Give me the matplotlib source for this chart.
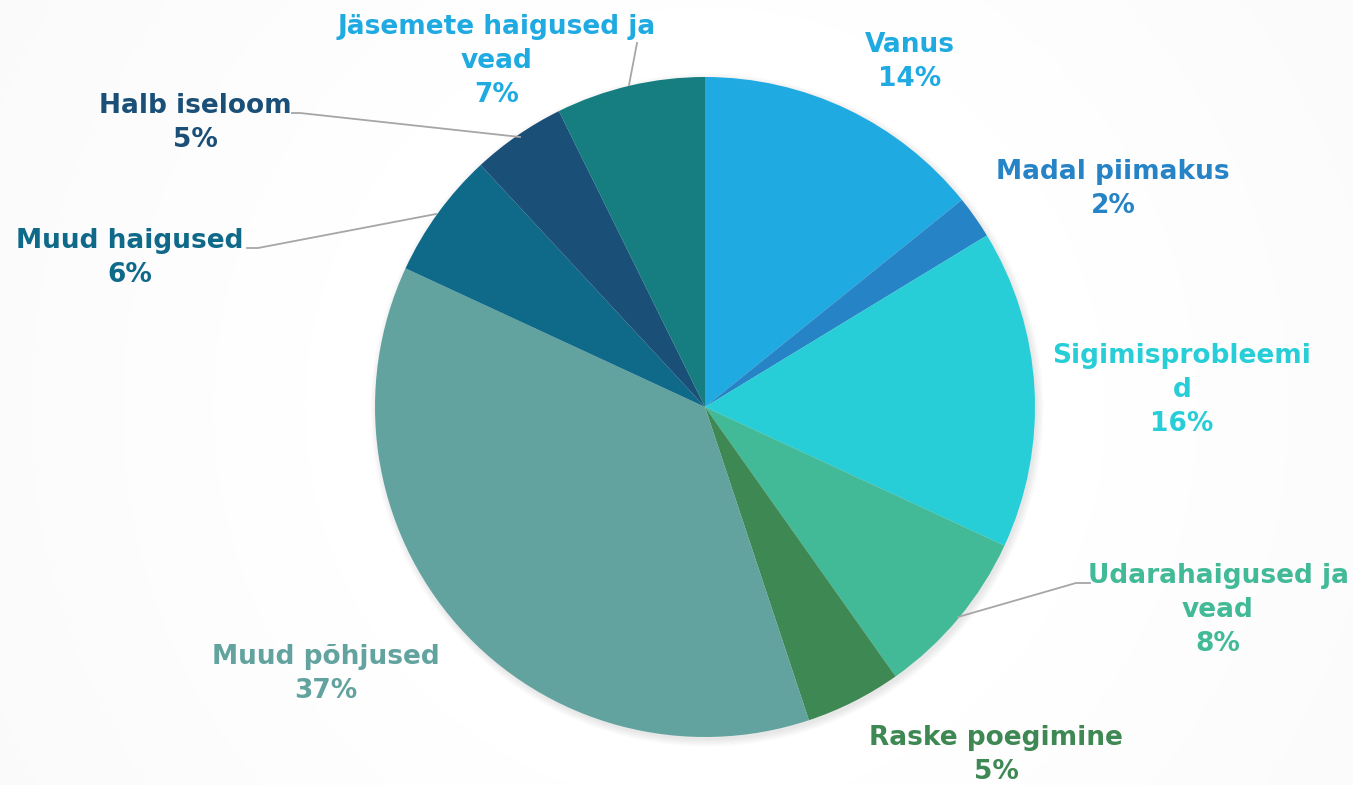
import matplotlib.pyplot as plt
import numpy as np

# data (shares, labels show rounded %)
labels = ["Vanus", "Madal piimakus", "Sigimisprobleemi\nd", "Udarahaigused ja\nvead",
          "Raske poegimine", "Muud põhjused", "Muud haigused", "Halb iseloom",
          "Jäsemete haigused ja\nvead"]
shares = [14.2, 2.1, 15.6, 8.3, 4.7, 37.0, 6.2, 4.6, 7.3]
slice_colors = ["#1FAAE1", "#2683C6", "#27CED7", "#42BA97", "#3E8853",
                "#62A39F", "#0F6A8A", "#1A4F78", "#167D80"]
text_colors = ["#1FAAE1", "#2683C6", "#27CED7", "#42BA97", "#3E8853",
               "#62A39F", "#0F6A8A", "#1A4F78", "#1FAAE1"]

W, H = 1353, 785
cx, cy, R = 705, H - 407, 330

# label anchor (pixel coords, y from top), centre of text block
label_pos = [(910, 62), (1113, 189), (1182, 390), (1218, 610), (996, 755),
             (326, 674), (130, 258), (195, 123), (497, 61)]

# leader lines, pixel coords
leaders = {
    3: [(1090, 583), (1076, 583), (958, 617)],
    6: [(247, 248), (258, 248), (436, 214)],
    7: [(292, 113), (300, 113), (520, 137)],
    8: [(637, 43), (629, 85)],
}

fig = plt.figure(figsize=(W / 100, H / 100), dpi=100)
ax = fig.add_axes([0, 0, 1, 1])

# faint radial background
yy, xx = np.mgrid[0:H, 0:W]
rr = np.hypot(xx - cx, (H - yy) - cy)
bg = 1 - 0.03 * np.clip((rr - 400) / 700, 0, 1)
ax.imshow(np.dstack([bg, bg, bg]), extent=(0, W, 0, H), origin="upper", zorder=0)

# soft shadow under pie
for k in range(6):
    ax.add_patch(plt.Circle((cx + 2, cy - 3), R + k * 1.3, color="#000000",
                            alpha=0.015, lw=0, zorder=1))

ax.pie(shares, colors=slice_colors, startangle=90, counterclock=False,
       center=(cx, cy), radius=R, frame=True,
       wedgeprops=dict(linewidth=0, zorder=2))
ax.set_xlim(0, W)
ax.set_ylim(0, H)
ax.set_aspect("equal")
ax.axis("off")

for i, (lab, val) in enumerate(zip(labels, shares)):
    x, y = label_pos[i]
    ax.text(x, H - y, f"{lab}\n{round(val):d}%", ha="center", va="center",
            fontsize=19, fontweight="bold", color=text_colors[i],
            family="DejaVu Sans", linespacing=1.4, zorder=5)

for i, pts in leaders.items():
    xs = [p[0] for p in pts]
    ys = [H - p[1] for p in pts]
    ax.plot(xs, ys, color="#A6A6A6", lw=1.3, zorder=4)

fig.savefig("out.png", dpi=100)
